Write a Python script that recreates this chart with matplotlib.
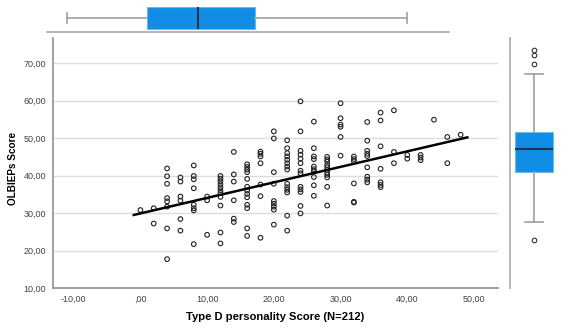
import numpy as np
import matplotlib.pyplot as plt
from matplotlib.ticker import FuncFormatter

# scatter points: Type D score -> OLBI EPs scores
type_d = [0, 2, 4, 6, 8, 10, 12, 14, 16, 18, 20, 22, 24, 26, 28, 30, 32, 34, 36, 38, 40, 42, 44, 46, 48]
olbi = [
    [30.8],
    [31.3, 27.2],
    [41.9, 39.8, 37.8, 34.0, 33.1, 31.7, 25.9, 17.7],
    [39.5, 38.4, 34.4, 33.3, 28.4, 25.3],
    [42.7, 39.9, 39.0, 36.6, 32.2, 31.3, 30.7, 21.7],
    [34.4, 33.4, 24.2],
    [39.9, 39.2, 38.5, 37.7, 36.9, 36.1, 35.4, 34.3, 32.0, 24.8, 21.9],
    [46.3, 40.3, 38.4, 33.4, 28.5, 27.6],
    [43.0, 42.3, 41.6, 40.9, 39.1, 37.0, 36.0, 35.1, 34.2, 32.2, 31.3, 25.9, 23.9],
    [46.4, 45.8, 45.1, 43.3, 37.6, 34.5, 23.4],
    [51.8, 49.9, 40.9, 37.8, 33.2, 32.5, 31.7, 30.9, 26.9],
    [49.4, 47.3, 46.0, 45.1, 44.2, 43.3, 42.4, 41.6, 37.8, 36.9, 36.2, 35.5, 29.3, 25.3],
    [59.8, 51.8, 46.6, 45.6, 44.5, 43.3, 41.3, 40.6, 37.0, 36.3, 35.6, 31.9, 29.9],
    [54.4, 47.3, 45.1, 44.4, 42.4, 41.7, 41.1, 39.6, 37.4, 34.6],
    [45.0, 44.3, 43.7, 42.8, 42.2, 41.5, 40.8, 40.2, 39.5, 37.0, 32.0],
    [59.3, 55.3, 53.6, 53.0, 50.3, 45.3],
    [45.1, 44.4, 43.8, 37.9, 33.0, 32.8],
    [54.3, 49.3, 46.6, 45.8, 45.2, 42.2, 39.7, 38.9, 38.2],
    [56.8, 54.7, 47.8, 41.8, 38.2, 37.5, 36.9],
    [57.4, 46.3, 43.3],
    [45.5, 44.5],
    [45.5, 44.8, 44.1],
    [54.9],
    [50.3, 43.3],
    [50.9],
]

# fit line
fit_intercept = 29.9
fit_slope = 0.414
fit_range = [-1, 49]

# marginal box plots
x_box = dict(whislo=0.0, q1=11.3, med=18.4, q3=26.5, whishi=48.0, fliers=[])
y_box = dict(whislo=21.7, q1=32.7, med=37.8, q3=41.6, whishi=54.6, fliers=[59.8, 58.8, 56.8, 17.7])

x_ticks = [-10, 0, 10, 20, 30, 40, 50]
y_ticks = [10, 20, 30, 40, 50, 60, 70]

plt.rcParams['font.family'] = ['Liberation Sans', 'DejaVu Sans']

W, H = 580, 332
fig = plt.figure(figsize=(W / 100, H / 100), dpi=100)


def px_axes(x0, y0, x1, y1):
    # axes from pixel box (top-left origin)
    return fig.add_axes([x0 / W, 1 - y1 / H, (x1 - x0) / W, (y1 - y0) / H])


def comma(v, pos):
    s = f"{v:.2f}".replace('.', ',')
    if s.startswith('0,'):
        s = s[1:]
    return s


spine_col = '#9a9a9a'
box_face = '#128de6'
box_edge = '#6cb8ef'
med_col = '#1b3550'
whisk_col = '#a0a0a0'

# main scatter
ax = px_axes(53, 38, 498, 288)
xs = np.concatenate([[x] * len(v) for x, v in zip(type_d, olbi)])
ys = np.concatenate(olbi)
ax.scatter(xs, ys, s=11, facecolors='none', edgecolors='#222222', linewidths=0.8, zorder=3)
lx = np.array(fit_range)
ax.plot(lx, fit_intercept + fit_slope * lx, color='black', lw=1.8, zorder=4)

ax.set_xlim(-13.1, 53.6)
ax.set_ylim(10, 76.7)
ax.set_xticks(x_ticks)
ax.set_yticks(y_ticks)
ax.xaxis.set_major_formatter(FuncFormatter(comma))
ax.yaxis.set_major_formatter(FuncFormatter(comma))
ax.tick_params(length=0, labelsize=6.5, labelcolor='#444444')
ax.tick_params(axis='y', pad=5)
ax.tick_params(axis='x', pad=5)
ax.grid(axis='y', color='#dddddd', lw=1)
ax.set_axisbelow(True)
for s in ['top', 'right']:
    ax.spines[s].set_visible(False)
for s in ['left', 'bottom']:
    ax.spines[s].set_color(spine_col)
    ax.spines[s].set_linewidth(1.3)
ax.set_xlabel('Type D personality Score (N=212)', fontsize=8.1, fontweight='bold')
ax.set_ylabel('OLBIEPs Score', fontsize=7.2, fontweight='bold')
ax.xaxis.set_label_coords(0.499, -0.094)
ax.yaxis.set_label_coords(-0.079, 0.48)

box_kw = dict(patch_artist=True, showfliers=True,
              boxprops=dict(facecolor=box_face, edgecolor=box_edge, lw=0.8),
              medianprops=dict(color=med_col, lw=1.5),
              whiskerprops=dict(color=whisk_col, lw=1.2),
              capprops=dict(color=whisk_col, lw=1.2),
              flierprops=dict(marker='o', markersize=3.3, markerfacecolor='none',
                              markeredgecolor='#333333', markeredgewidth=0.8))

# top marginal box
axt = px_axes(47, 4, 449, 31.7)
axt.bxp([x_box], positions=[0], widths=1.6, vert=False, capwidths=0.68, **box_kw)
axt.set_xlim(-2.87, 53.9)
axt.set_ylim(-1, 1)
axt.set_xticks([])
axt.set_yticks([])
for s in ['top', 'right', 'left']:
    axt.spines[s].set_visible(False)
axt.spines['bottom'].set_color('#b0b0b0')
axt.spines['bottom'].set_linewidth(1.3)

# right marginal box
axr = px_axes(510, 38, 557.6, 288)
axr.bxp([y_box], positions=[0], widths=1.58, capwidths=0.77, **box_kw)
axr.set_xlim(-1, 1)
axr.set_ylim(7.0, 62.5)
axr.set_xticks([])
axr.set_yticks([])
for s in ['top', 'right', 'bottom']:
    axr.spines[s].set_visible(False)
axr.spines['left'].set_color('#b0b0b0')
axr.spines['left'].set_linewidth(1.3)

fig.savefig('out.png', dpi=100)
